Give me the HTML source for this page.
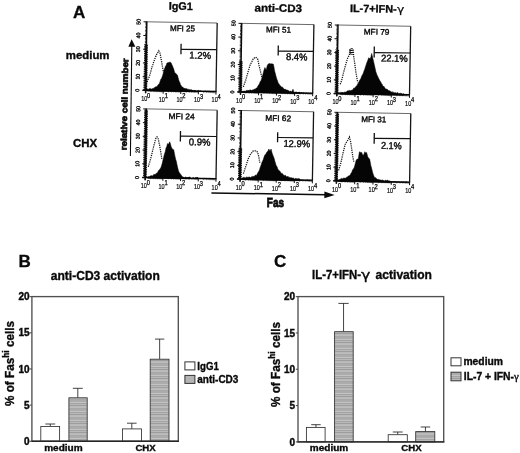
<!DOCTYPE html>
<html lang="en"><head><meta charset="utf-8"><title>Fas expression figure</title>
<style>
html,body{margin:0;padding:0;background:#fff;}
body{width:520px;height:453px;overflow:hidden;font-family:'Liberation Sans', Arial, Helvetica, sans-serif;}
svg{display:block;font-family:'Liberation Sans', Arial, Helvetica, sans-serif;filter:blur(0.35px);}
</style></head><body>
<svg width="520" height="453" viewBox="0 0 520 453">
<rect width="520" height="453" fill="#fff"/>
<g id="panelA">
<g>
<path d="M146.8 21.8L217.19 23.03" stroke="#6a6a6a" stroke-width="1" fill="none"/>
<path d="M217.19 23.03L215.99 91.62" stroke="#151515" stroke-width="1.3" fill="none"/>
<path d="M142.6 90.34L216.49 91.62" stroke="#0a0a0a" stroke-width="1.5" fill="none"/>
<path d="M146.8 21.4L145.6 92.89" stroke="#0a0a0a" stroke-width="1.5" fill="none"/>
<path d="M145.9 21.8L145.5 44.43" stroke="#111" stroke-width="1.3" stroke-dasharray="0.7 0.67" fill="none"/>
<path d="M144.3 44.43L147.89 45.34L144.27 46.24L147.86 47.14L144.24 48.04L147.83 48.94L144.21 49.84L147.79 50.74L144.18 51.64L147.76 52.54L144.15 53.45L147.73 54.35L144.12 55.25L147.7 56.15L144.08 57.05L147.67 57.95L144.05 58.85L147.64 59.75L144.02 60.65L147.61 61.56L143.99 62.46L147.57 63.36L143.96 64.26L147.54 65.16L143.93 66.06L147.51 66.96L143.9 67.86L147.48 68.76L143.86 69.66L147.45 70.57L143.83 71.47L147.42 72.37L143.8 73.27L147.39 74.17L143.77 75.07L147.35 75.97L143.74 76.87L147.32 77.77L143.71 78.68L147.29 79.58L143.68 80.48L147.26 81.38L143.64 82.28L147.23 83.18L143.61 84.08L147.2 84.98L143.58 85.88L147.17 86.79L143.55 87.69L147.13 88.59L143.52 89.49L147.1 90.39" stroke="#050505" stroke-width="0.85" fill="none" stroke-linejoin="miter"/>
<path d="M146.2 44.43L145.4 90.39" stroke="#0a0a0a" stroke-width="1.7" fill="none"/>
<path d="M142.4 90.39L145.6 90.39" stroke="#111" stroke-width="1"/>
<text transform="translate(139.4 90.39) rotate(-89)" text-anchor="middle" font-size="5.6" fill="#111" stroke="#111" stroke-width="0.35" textLength="2.9" lengthAdjust="spacingAndGlyphs">0</text>
<path d="M142.64 76.67L145.84 76.67" stroke="#111" stroke-width="1"/>
<text transform="translate(139.64 76.67) rotate(-89)" text-anchor="middle" font-size="5.6" fill="#111" stroke="#111" stroke-width="0.35" textLength="5.8" lengthAdjust="spacingAndGlyphs">10</text>
<path d="M142.88 62.95L146.08 62.95" stroke="#111" stroke-width="1"/>
<text transform="translate(139.88 62.95) rotate(-89)" text-anchor="middle" font-size="5.6" fill="#111" stroke="#111" stroke-width="0.35" textLength="5.8" lengthAdjust="spacingAndGlyphs">20</text>
<path d="M143.12 49.24L146.32 49.24" stroke="#111" stroke-width="1"/>
<text transform="translate(140.12 49.24) rotate(-89)" text-anchor="middle" font-size="5.6" fill="#111" stroke="#111" stroke-width="0.35" textLength="5.8" lengthAdjust="spacingAndGlyphs">30</text>
<path d="M143.36 35.52L146.56 35.52" stroke="#111" stroke-width="1"/>
<text transform="translate(140.36 35.52) rotate(-89)" text-anchor="middle" font-size="5.6" fill="#111" stroke="#111" stroke-width="0.35" textLength="5.8" lengthAdjust="spacingAndGlyphs">40</text>
<path d="M143.6 21.8L146.8 21.8" stroke="#111" stroke-width="1"/>
<text transform="translate(140.6 21.8) rotate(-89)" text-anchor="middle" font-size="5.6" fill="#111" stroke="#111" stroke-width="0.35" textLength="5.8" lengthAdjust="spacingAndGlyphs">50</text>
<path d="M145.6 90.39L145.55 93.39" stroke="#111" stroke-width="1"/>
<text x="141.2" y="101.19" font-size="7.3" fill="#000" stroke="#000" stroke-width="0.18" textLength="6.1" lengthAdjust="spacingAndGlyphs">10</text>
<text x="147.1" y="97.59" font-size="6.4" fill="#000" stroke="#000" stroke-width="0.25" textLength="3.2" lengthAdjust="spacingAndGlyphs">0</text>
<path d="M163.2 90.7L163.15 93.7" stroke="#111" stroke-width="1"/>
<text x="158.8" y="101.5" font-size="7.3" fill="#000" stroke="#000" stroke-width="0.18" textLength="6.1" lengthAdjust="spacingAndGlyphs">10</text>
<text x="164.7" y="97.9" font-size="6.4" fill="#000" stroke="#000" stroke-width="0.25" textLength="3.2" lengthAdjust="spacingAndGlyphs">1</text>
<path d="M180.8 91L180.75 94" stroke="#111" stroke-width="1"/>
<text x="176.4" y="101.8" font-size="7.3" fill="#000" stroke="#000" stroke-width="0.18" textLength="6.1" lengthAdjust="spacingAndGlyphs">10</text>
<text x="182.3" y="98.2" font-size="6.4" fill="#000" stroke="#000" stroke-width="0.25" textLength="3.2" lengthAdjust="spacingAndGlyphs">2</text>
<path d="M198.39 91.31L198.34 94.31" stroke="#111" stroke-width="1"/>
<text x="193.99" y="102.11" font-size="7.3" fill="#000" stroke="#000" stroke-width="0.18" textLength="6.1" lengthAdjust="spacingAndGlyphs">10</text>
<text x="199.89" y="98.51" font-size="6.4" fill="#000" stroke="#000" stroke-width="0.25" textLength="3.2" lengthAdjust="spacingAndGlyphs">3</text>
<path d="M215.99 91.62L215.94 94.62" stroke="#111" stroke-width="1"/>
<text x="211.59" y="102.42" font-size="7.3" fill="#000" stroke="#000" stroke-width="0.18" textLength="6.1" lengthAdjust="spacingAndGlyphs">10</text>
<text x="217.49" y="98.82" font-size="6.4" fill="#000" stroke="#000" stroke-width="0.25" textLength="3.2" lengthAdjust="spacingAndGlyphs">4</text>
<path d="M150.9 90.48v1.6M154 90.54v1.6M156.2 90.57v1.6M157.9 90.6v1.6M159.3 90.63v1.6M160.47 90.65v1.6M161.49 90.67v1.6M162.39 90.68v1.6M168.5 90.79v1.6M171.6 90.84v1.6M173.79 90.88v1.6M175.5 90.91v1.6M176.89 90.94v1.6M178.07 90.96v1.6M179.09 90.97v1.6M179.99 90.99v1.6M186.09 91.1v1.6M189.19 91.15v1.6M191.39 91.19v1.6M193.1 91.22v1.6M194.49 91.24v1.6M195.67 91.26v1.6M196.69 91.28v1.6M197.59 91.3v1.6M203.69 91.4v1.6M206.79 91.46v1.6M208.99 91.5v1.6M210.69 91.53v1.6M212.09 91.55v1.6M213.27 91.57v1.6M214.29 91.59v1.6M215.19 91.6v1.6" stroke="#222" stroke-width="0.5" fill="none"/>
<path d="M147.1 81.91L147.93 79.79L148.77 78.01L149.6 75.69L150.4 73.02L151.2 70.03L152 66.98L152.83 64.74L153.67 62.04L154.5 59.77L155.33 57.52L156.17 55.46L157 53.56L157.9 52.51L158.8 50.91L160.1 53.46L161.3 59.86L162.6 67.42L163.5 72.24" stroke="#111" stroke-width="1.25" stroke-dasharray="1.2 1.0" fill="none"/>
<path d="M146.5 91.01L146.5 89.19L147.11 89.77L147.72 88.69L148.33 89.53L148.94 88.85L149.56 88.63L150.17 88.55L150.78 88.7L151.39 89.2L152 88.45L152.63 88.63L153.26 88.44L153.89 87.89L154.51 87.82L155.14 87.03L155.77 86.77L156.4 86.68L157.02 86.46L157.64 85.44L158.26 84.58L158.88 84.13L159.5 83.25L160.7 79.38L161.33 78.69L161.97 77.35L162.6 75.62L163.2 73.52L163.8 70.99L164.4 68.91L165.03 67.5L165.65 65.77L166.28 65.28L166.9 63.08L167.8 62.81L168.7 62.58L169.32 62.07L169.95 62.59L170.57 62.24L171.2 63.09L171.83 64.62L172.47 65.85L173.1 67.61L173.7 68.86L174.3 71.15L174.9 72.9L175.53 73.34L176.15 73.65L176.78 74.52L177.4 75.09L178.6 79.57L179.23 81.41L179.87 82.38L180.5 84.72L181.12 85.4L181.74 86.52L182.36 87.07L182.98 87.22L183.6 88.07L184.21 88.57L184.82 88.05L185.44 88.72L186.05 88.58L186.66 88.72L187.28 88.84L187.89 89.81L188.5 89.29L189.12 89.5L189.75 89.73L190.38 90.33L191 89.54L191.62 90.02L192.25 90.2L192.88 90.65L193.5 90.65L194.12 90.78L194.75 90.21L195.38 90.43L196 90.44L196 91.87Z" fill="#050505" stroke="#050505" stroke-width="0.5" stroke-linejoin="round"/>
<path d="M146.1 91L146.1 88.98L146.7 88.88L147.3 90.18L147.9 90.15L148.5 90.07L149.1 90.08L149.7 89.69L150.3 89.53L150.9 90.06L151.5 90.49L152.1 89.83L152.7 89.92L153.3 89.62L153.9 89.01L154.5 89.44L155.1 89.73L155.7 89.58L156.3 89.49L156.9 90.5L157.5 89.16L158.1 89.36L158.7 89.22L159.3 89.35L159.9 90.01L160.5 90.01L161.1 90.49L161.7 89.66L162.3 90.58L162.9 90.58L163.5 90.37L164.1 90.45L164.7 90.18L165.3 90.65L165.9 90.74L166.5 90.51L167.1 90.6L167.7 90.19L168.3 90.74L168.9 89.4L169.5 89.82L170.1 90.58L170.7 90.42L171.3 90.28L171.9 90.27L172.5 90.66L173.1 89.51L173.7 89.29L174.3 90.14L174.9 90.13L175.5 90.77L176.1 90.76L176.7 90.38L177.3 90.52L177.9 89.63L178.5 90.71L179.1 90.94L179.7 89.46L180.3 90.15L180.9 90.77L181.5 90.15L182.1 90.98L182.7 90.19L183.3 89.48L183.9 89.68L184.5 89.95L185.1 90.66L185.7 90.5L186.3 90.83L186.9 89.88L187.5 90.27L188.1 89.88L188.7 90.61L189.3 90.8L189.9 89.86L190.5 89.6L191.1 89.82L191.7 89.9L192.3 89.9L192.9 90.03L193.5 90.86L194.1 90.41L194.7 90.68L195.3 91.21L195.9 91.22L196.5 90.83L197.1 90.87L197.7 90.19L198.3 89.78L198.9 90.96L199.5 90.58L200.1 90.55L200.7 90.59L201.3 91.07L201.9 91.2L202.5 91.2L203.1 91.24L203.7 91.24L204.3 90.91L204.9 90.7L205.5 90.76L206.1 91.06L206.7 90.93L207.3 90.83L207.9 91.41L208.5 90.96L209.1 90.77L209.7 90.88L210.3 90.92L210.9 91.15L211.5 91.4L212.1 90.92L212.7 91.29L213.3 90.93L213.9 90.8L213.99 92.18Z" fill="#050505"/>
<path d="M181.1 43.7L180.95 54.2" stroke="#111" stroke-width="1.3" fill="none"/>
<path d="M181.1 49.3L216.73 49.67" stroke="#111" stroke-width="1.2" fill="none"/>
<text transform="translate(170 31) rotate(1)" font-size="8.2" fill="#0a0a0a" stroke="#0a0a0a" stroke-width="0.4" textLength="25" lengthAdjust="spacingAndGlyphs">MFI 25</text>
<text transform="translate(189.2 58.6) rotate(1)" font-size="9.8" fill="#0a0a0a" stroke="#0a0a0a" stroke-width="0.4" textLength="21.8" lengthAdjust="spacingAndGlyphs">1.2%</text>
</g>
<g>
<path d="M241.7 23.35L313.89 24.61" stroke="#6a6a6a" stroke-width="1" fill="none"/>
<path d="M313.89 24.61L312.69 93.2" stroke="#151515" stroke-width="1.3" fill="none"/>
<path d="M237.5 91.89L313.19 93.2" stroke="#0a0a0a" stroke-width="1.5" fill="none"/>
<path d="M241.7 22.95L240.5 94.44" stroke="#0a0a0a" stroke-width="1.5" fill="none"/>
<path d="M240.8 23.35L240.14 61.07" stroke="#111" stroke-width="1.3" stroke-dasharray="0.7 0.67" fill="none"/>
<path d="M238.94 61.07L242.53 61.98L238.91 62.89L242.49 63.8L238.88 64.71L242.46 65.61L238.85 66.52L242.43 67.43L238.81 68.34L242.4 69.24L238.78 70.15L242.37 71.06L238.75 71.97L242.34 72.88L238.72 73.78L242.3 74.69L238.69 75.6L242.27 76.51L238.66 77.41L242.24 78.32L238.62 79.23L242.21 80.14L238.59 81.05L242.18 81.95L238.56 82.86L242.15 83.77L238.53 84.68L242.11 85.58L238.5 86.49L242.08 87.4L238.47 88.31L242.05 89.22L238.43 90.12L242.02 91.03L238.4 91.94" stroke="#050505" stroke-width="0.85" fill="none" stroke-linejoin="miter"/>
<path d="M240.84 61.07L240.3 91.94" stroke="#0a0a0a" stroke-width="1.7" fill="none"/>
<path d="M237.3 91.94L240.5 91.94" stroke="#111" stroke-width="1"/>
<text transform="translate(234.3 91.94) rotate(-89)" text-anchor="middle" font-size="5.6" fill="#111" stroke="#111" stroke-width="0.35" textLength="2.9" lengthAdjust="spacingAndGlyphs">0</text>
<path d="M237.54 78.22L240.74 78.22" stroke="#111" stroke-width="1"/>
<text transform="translate(234.54 78.22) rotate(-89)" text-anchor="middle" font-size="5.6" fill="#111" stroke="#111" stroke-width="0.35" textLength="5.8" lengthAdjust="spacingAndGlyphs">10</text>
<path d="M237.78 64.5L240.98 64.5" stroke="#111" stroke-width="1"/>
<text transform="translate(234.78 64.5) rotate(-89)" text-anchor="middle" font-size="5.6" fill="#111" stroke="#111" stroke-width="0.35" textLength="5.8" lengthAdjust="spacingAndGlyphs">20</text>
<path d="M238.02 50.79L241.22 50.79" stroke="#111" stroke-width="1"/>
<text transform="translate(235.02 50.79) rotate(-89)" text-anchor="middle" font-size="5.6" fill="#111" stroke="#111" stroke-width="0.35" textLength="5.8" lengthAdjust="spacingAndGlyphs">30</text>
<path d="M238.26 37.07L241.46 37.07" stroke="#111" stroke-width="1"/>
<text transform="translate(235.26 37.07) rotate(-89)" text-anchor="middle" font-size="5.6" fill="#111" stroke="#111" stroke-width="0.35" textLength="5.8" lengthAdjust="spacingAndGlyphs">40</text>
<path d="M238.5 23.35L241.7 23.35" stroke="#111" stroke-width="1"/>
<text transform="translate(235.5 23.35) rotate(-89)" text-anchor="middle" font-size="5.6" fill="#111" stroke="#111" stroke-width="0.35" textLength="5.8" lengthAdjust="spacingAndGlyphs">50</text>
<path d="M240.5 91.94L240.45 94.94" stroke="#111" stroke-width="1"/>
<text x="236.1" y="102.74" font-size="7.3" fill="#000" stroke="#000" stroke-width="0.18" textLength="6.1" lengthAdjust="spacingAndGlyphs">10</text>
<text x="242" y="99.14" font-size="6.4" fill="#000" stroke="#000" stroke-width="0.25" textLength="3.2" lengthAdjust="spacingAndGlyphs">0</text>
<path d="M258.55 92.25L258.5 95.25" stroke="#111" stroke-width="1"/>
<text x="254.15" y="103.05" font-size="7.3" fill="#000" stroke="#000" stroke-width="0.18" textLength="6.1" lengthAdjust="spacingAndGlyphs">10</text>
<text x="260.05" y="99.45" font-size="6.4" fill="#000" stroke="#000" stroke-width="0.25" textLength="3.2" lengthAdjust="spacingAndGlyphs">1</text>
<path d="M276.6 92.57L276.55 95.57" stroke="#111" stroke-width="1"/>
<text x="272.2" y="103.37" font-size="7.3" fill="#000" stroke="#000" stroke-width="0.18" textLength="6.1" lengthAdjust="spacingAndGlyphs">10</text>
<text x="278.1" y="99.77" font-size="6.4" fill="#000" stroke="#000" stroke-width="0.25" textLength="3.2" lengthAdjust="spacingAndGlyphs">2</text>
<path d="M294.64 92.88L294.59 95.88" stroke="#111" stroke-width="1"/>
<text x="290.24" y="103.68" font-size="7.3" fill="#000" stroke="#000" stroke-width="0.18" textLength="6.1" lengthAdjust="spacingAndGlyphs">10</text>
<text x="296.14" y="100.08" font-size="6.4" fill="#000" stroke="#000" stroke-width="0.25" textLength="3.2" lengthAdjust="spacingAndGlyphs">3</text>
<path d="M312.69 93.2L312.64 96.2" stroke="#111" stroke-width="1"/>
<text x="308.29" y="104" font-size="7.3" fill="#000" stroke="#000" stroke-width="0.18" textLength="6.1" lengthAdjust="spacingAndGlyphs">10</text>
<text x="314.19" y="100.4" font-size="6.4" fill="#000" stroke="#000" stroke-width="0.25" textLength="3.2" lengthAdjust="spacingAndGlyphs">4</text>
<path d="M245.94 92.03v1.6M249.11 92.09v1.6M251.37 92.13v1.6M253.12 92.16v1.6M254.55 92.18v1.6M255.75 92.21v1.6M256.8 92.22v1.6M257.72 92.24v1.6M263.98 92.35v1.6M267.16 92.4v1.6M269.42 92.44v1.6M271.16 92.47v1.6M272.59 92.5v1.6M273.8 92.52v1.6M274.85 92.54v1.6M275.77 92.56v1.6M282.03 92.66v1.6M285.21 92.72v1.6M287.46 92.76v1.6M289.21 92.79v1.6M290.64 92.81v1.6M291.85 92.84v1.6M292.9 92.85v1.6M293.82 92.87v1.6M300.08 92.98v1.6M303.26 93.03v1.6M305.51 93.07v1.6M307.26 93.1v1.6M308.69 93.13v1.6M309.9 93.15v1.6M310.94 93.17v1.6M311.87 93.19v1.6" stroke="#222" stroke-width="0.5" fill="none"/>
<path d="M243.4 86.85L244.55 83.4L245.7 80.22L246.85 76.26L248 72.14L249.15 68.26L250.3 64.43L251.33 62.77L252.37 60.69L253.4 58.32L254.55 57.86L255.7 57.14L256.7 58.13L257.7 59.13L259.2 66.22L260 69.47L260.8 72.86L261.8 77.14" stroke="#111" stroke-width="1.25" stroke-dasharray="1.2 1.0" fill="none"/>
<path d="M242.6 92.58L242.6 91.36L243.2 91.16L243.8 91.54L244.4 90.93L245 91.34L245.6 91.23L246.2 90.48L246.8 90.46L247.4 90.44L248 90.31L248.66 90.61L249.31 90.16L249.97 90.25L250.63 89.85L251.29 90.62L251.94 89.92L252.6 89.95L253.26 89.76L253.91 89.79L254.57 88.93L255.23 89.15L255.89 88.36L256.54 88.06L257.2 87.73L257.97 85.87L258.73 85.03L259.5 83.45L260.27 81.49L261.03 80.6L261.8 78.14L262.47 75.9L263.13 73.61L263.8 70.86L264.9 67.51L265.55 68.87L266.2 70.06L267.2 65.71L268 64.17L268.8 63.87L269.46 63.52L270.11 63.55L270.77 64.1L271.43 63.81L272.09 63.87L272.74 64.09L273.4 64.25L274 67.24L274.6 70.92L275.4 73.86L276.2 76.91L276.9 79.18L277.6 80.98L278.3 83.14L279 83.85L279.7 85.14L280.4 85.64L281.1 86.61L281.76 87.23L282.41 87.02L283.07 87.89L283.73 88.86L284.39 89.29L285.04 89.06L285.7 89.58L286.31 90.09L286.92 89.83L287.53 90.16L288.14 90.13L288.75 90.94L289.36 91.21L289.97 91.49L290.58 90.82L291.19 91.59L291.8 91.68L293 89.21L294 92.42L294.6 92.55L295.2 91.77L295.8 92.62L296.4 92.05L297 92.19L297.6 92.78L298.2 92.65L298.8 91.95L299.4 92.28L300 92.42L300 93.58Z" fill="#050505" stroke="#050505" stroke-width="0.5" stroke-linejoin="round"/>
<path d="M241 92.55L241 91.41L241.6 91.65L242.2 91.46L242.8 90.82L243.4 91.96L244 91.11L244.6 91.31L245.2 91.99L245.8 91.5L246.4 91.04L247 91.23L247.6 91.96L248.2 90.5L248.8 90.82L249.4 90.54L250 91.94L250.6 91.69L251.2 92.06L251.8 90.89L252.4 91.71L253 91.95L253.6 91.49L254.2 90.72L254.8 90.88L255.4 91.79L256 91.97L256.6 90.75L257.2 91.32L257.8 91.12L258.4 92.11L259 92.17L259.6 91.17L260.2 91.6L260.8 92.18L261.4 90.8L262 91.3L262.6 91.04L263.2 92.2L263.8 90.98L264.4 92.25L265 90.99L265.6 91.65L266.2 91.85L266.8 91.51L267.4 90.93L268 91.99L268.6 92.22L269.2 91.6L269.8 92.07L270.4 92.29L271 92.21L271.6 92.4L272.2 92.17L272.8 92L273.4 92.03L274 91.31L274.6 92.07L275.2 91.75L275.8 92.27L276.4 92.01L277 92.55L277.6 92.19L278.2 92.57L278.8 91.44L279.4 91.74L280 92.33L280.6 91.88L281.2 91.15L281.8 92.49L282.4 91.36L283 91.99L283.6 91.9L284.2 91.37L284.8 92.08L285.4 91.91L286 91.63L286.6 91.17L287.2 92.21L287.8 91.43L288.4 91.64L289 91.77L289.6 92.15L290.2 92.25L290.8 92.73L291.4 92.62L292 92.73L292.6 91.66L293.2 92.45L293.8 92.61L294.4 92.75L295 92.22L295.6 92.2L296.2 92.38L296.8 92.7L297.4 92.74L298 92.71L298.6 92.59L299.2 92.84L299.8 92.62L300.4 92.77L301 92.23L301.6 92.23L302.2 92.58L302.8 92.83L303.4 92.26L304 92.8L304.6 92.77L305.2 93.07L305.8 92.77L306.4 92.71L307 92.7L307.6 92.95L308.2 92.72L308.8 93.13L309.4 92.93L310 93.08L310.6 92.84L310.69 93.76Z" fill="#050505"/>
<path d="M278.3 45.4L278.15 55.4" stroke="#111" stroke-width="1.3" fill="none"/>
<path d="M278.3 51.1L313.43 51.47" stroke="#111" stroke-width="1.2" fill="none"/>
<text transform="translate(266 32.2) rotate(1)" font-size="8.2" fill="#0a0a0a" stroke="#0a0a0a" stroke-width="0.4" textLength="25" lengthAdjust="spacingAndGlyphs">MFI 51</text>
<text transform="translate(286 60) rotate(1)" font-size="9.8" fill="#0a0a0a" stroke="#0a0a0a" stroke-width="0.4" textLength="21.5" lengthAdjust="spacingAndGlyphs">8.4%</text>
</g>
<g>
<path d="M338 25L410.69 26.27" stroke="#6a6a6a" stroke-width="1" fill="none"/>
<path d="M410.69 26.27L409.49 94.86" stroke="#151515" stroke-width="1.3" fill="none"/>
<path d="M333.8 93.54L409.99 94.86" stroke="#0a0a0a" stroke-width="1.5" fill="none"/>
<path d="M338 24.6L336.8 96.09" stroke="#0a0a0a" stroke-width="1.5" fill="none"/>
<path d="M337.1 25L336.67 49.69" stroke="#111" stroke-width="1.3" stroke-dasharray="0.7 0.67" fill="none"/>
<path d="M335.47 49.69L339.05 50.61L335.44 51.52L339.02 52.44L335.41 53.35L338.99 54.26L335.37 55.18L338.96 56.09L335.34 57.01L338.93 57.92L335.31 58.84L338.89 59.75L335.28 60.67L338.86 61.58L335.25 62.5L338.83 63.41L335.21 64.32L338.8 65.24L335.18 66.15L338.77 67.07L335.15 67.98L338.73 68.9L335.12 69.81L338.7 70.73L335.09 71.64L338.67 72.56L335.05 73.47L338.64 74.38L335.02 75.3L338.61 76.21L334.99 77.13L338.57 78.04L334.96 78.96L338.54 79.87L334.93 80.79L338.51 81.7L334.89 82.62L338.48 83.53L334.86 84.44L338.45 85.36L334.83 86.27L338.41 87.19L334.8 88.1L338.38 89.02L334.77 89.93L338.35 90.85L334.73 91.76L338.32 92.68L334.7 93.59" stroke="#050505" stroke-width="0.85" fill="none" stroke-linejoin="miter"/>
<path d="M337.37 49.69L336.6 93.59" stroke="#0a0a0a" stroke-width="1.7" fill="none"/>
<path d="M333.6 93.59L336.8 93.59" stroke="#111" stroke-width="1"/>
<text transform="translate(330.6 93.59) rotate(-89)" text-anchor="middle" font-size="5.6" fill="#111" stroke="#111" stroke-width="0.35" textLength="2.9" lengthAdjust="spacingAndGlyphs">0</text>
<path d="M333.84 79.87L337.04 79.87" stroke="#111" stroke-width="1"/>
<text transform="translate(330.84 79.87) rotate(-89)" text-anchor="middle" font-size="5.6" fill="#111" stroke="#111" stroke-width="0.35" textLength="5.8" lengthAdjust="spacingAndGlyphs">10</text>
<path d="M334.08 66.15L337.28 66.15" stroke="#111" stroke-width="1"/>
<text transform="translate(331.08 66.15) rotate(-89)" text-anchor="middle" font-size="5.6" fill="#111" stroke="#111" stroke-width="0.35" textLength="5.8" lengthAdjust="spacingAndGlyphs">20</text>
<path d="M334.32 52.44L337.52 52.44" stroke="#111" stroke-width="1"/>
<text transform="translate(331.32 52.44) rotate(-89)" text-anchor="middle" font-size="5.6" fill="#111" stroke="#111" stroke-width="0.35" textLength="5.8" lengthAdjust="spacingAndGlyphs">30</text>
<path d="M334.56 38.72L337.76 38.72" stroke="#111" stroke-width="1"/>
<text transform="translate(331.56 38.72) rotate(-89)" text-anchor="middle" font-size="5.6" fill="#111" stroke="#111" stroke-width="0.35" textLength="5.8" lengthAdjust="spacingAndGlyphs">40</text>
<path d="M334.8 25L338 25" stroke="#111" stroke-width="1"/>
<text transform="translate(331.8 25) rotate(-89)" text-anchor="middle" font-size="5.6" fill="#111" stroke="#111" stroke-width="0.35" textLength="5.8" lengthAdjust="spacingAndGlyphs">50</text>
<path d="M336.8 93.59L336.75 96.59" stroke="#111" stroke-width="1"/>
<text x="332.4" y="104.39" font-size="7.3" fill="#000" stroke="#000" stroke-width="0.18" textLength="6.1" lengthAdjust="spacingAndGlyphs">10</text>
<text x="338.3" y="100.79" font-size="6.4" fill="#000" stroke="#000" stroke-width="0.25" textLength="3.2" lengthAdjust="spacingAndGlyphs">0</text>
<path d="M354.97 93.91L354.92 96.91" stroke="#111" stroke-width="1"/>
<text x="350.57" y="104.71" font-size="7.3" fill="#000" stroke="#000" stroke-width="0.18" textLength="6.1" lengthAdjust="spacingAndGlyphs">10</text>
<text x="356.47" y="101.11" font-size="6.4" fill="#000" stroke="#000" stroke-width="0.25" textLength="3.2" lengthAdjust="spacingAndGlyphs">1</text>
<path d="M373.15 94.22L373.1 97.22" stroke="#111" stroke-width="1"/>
<text x="368.75" y="105.02" font-size="7.3" fill="#000" stroke="#000" stroke-width="0.18" textLength="6.1" lengthAdjust="spacingAndGlyphs">10</text>
<text x="374.65" y="101.42" font-size="6.4" fill="#000" stroke="#000" stroke-width="0.25" textLength="3.2" lengthAdjust="spacingAndGlyphs">2</text>
<path d="M391.32 94.54L391.27 97.54" stroke="#111" stroke-width="1"/>
<text x="386.92" y="105.34" font-size="7.3" fill="#000" stroke="#000" stroke-width="0.18" textLength="6.1" lengthAdjust="spacingAndGlyphs">10</text>
<text x="392.82" y="101.74" font-size="6.4" fill="#000" stroke="#000" stroke-width="0.25" textLength="3.2" lengthAdjust="spacingAndGlyphs">3</text>
<path d="M409.49 94.86L409.44 97.86" stroke="#111" stroke-width="1"/>
<text x="405.09" y="105.66" font-size="7.3" fill="#000" stroke="#000" stroke-width="0.18" textLength="6.1" lengthAdjust="spacingAndGlyphs">10</text>
<text x="410.99" y="102.06" font-size="6.4" fill="#000" stroke="#000" stroke-width="0.25" textLength="3.2" lengthAdjust="spacingAndGlyphs">4</text>
<path d="M342.27 93.69v1.6M345.47 93.74v1.6M347.74 93.78v1.6M349.5 93.81v1.6M350.94 93.84v1.6M352.16 93.86v1.6M353.21 93.88v1.6M354.14 93.89v1.6M360.45 94v1.6M363.65 94.06v1.6M365.92 94.1v1.6M367.68 94.13v1.6M369.12 94.15v1.6M370.33 94.17v1.6M371.39 94.19v1.6M372.32 94.21v1.6M378.62 94.32v1.6M381.82 94.38v1.6M384.09 94.41v1.6M385.85 94.45v1.6M387.29 94.47v1.6M388.5 94.49v1.6M389.56 94.51v1.6M390.49 94.53v1.6M396.79 94.64v1.6M399.99 94.69v1.6M402.26 94.73v1.6M404.02 94.76v1.6M405.46 94.79v1.6M406.68 94.81v1.6M407.73 94.83v1.6M408.66 94.84v1.6" stroke="#222" stroke-width="0.5" fill="none"/>
<path d="M340.2 84.27L341.7 80.36L342.6 76.65L343.5 72.77L344.5 69.09L345.5 65.21L346.65 61.48L347.8 57.58L349.4 55.31L349.8 48.79L350.4 54.44L351 48.21L351.6 54.74L352.2 48.12L352.8 54.61L353.2 49.07L353.7 56.57L354.8 63.87L355.8 71.6L357.1 79.16L357.8 82.32" stroke="#111" stroke-width="1.25" stroke-dasharray="1.2 1.0" fill="none"/>
<path d="M340.2 94.25L340.2 92.94L340.81 92.11L341.42 92.45L342.03 92.33L342.64 92.61L343.25 92.49L343.86 92.42L344.47 92.06L345.08 92.31L345.69 91.99L346.3 91.91L346.92 91.21L347.54 90.8L348.16 90.73L348.78 90.79L349.4 90.32L350.02 90.93L350.64 90.43L351.26 90.32L351.88 90.13L352.5 90L353.16 89.13L353.81 87.94L354.47 88.16L355.13 87.44L355.79 86.52L356.44 85.9L357.1 85.38L357.72 83.64L358.34 83.3L358.96 81.69L359.58 80.41L360.2 79.54L360.97 78.29L361.73 75.94L362.5 74.76L363.27 73.22L364.03 70.89L364.8 68.97L365.4 67.01L366 65.17L366.6 63.19L367.27 61.5L367.93 59.99L368.6 57.84L369.4 58.31L370.2 58.83L370.95 56.67L371.7 53.48L372.8 58.37L373.55 61.21L374.3 64.72L375.05 68.05L375.8 71.59L376.47 73.41L377.13 75.19L377.8 76.57L378.6 78.35L379.4 79.83L380.2 81.36L380.8 81.9L381.4 83.67L382 83.83L382.6 85.61L383.2 86.48L383.82 86.09L384.44 87.19L385.06 88.21L385.68 88.99L386.3 89.04L386.96 89.22L387.61 89.52L388.27 90.7L388.93 90.27L389.59 91.05L390.24 90.93L390.9 91.73L391.54 92.34L392.18 91.58L392.82 92.48L393.47 92.28L394.11 92.83L394.75 92.77L395.39 92.4L396.03 93.27L396.68 92.96L397.32 92.59L397.96 92.71L398.6 93.39L399.28 93.42L399.95 93.33L400.62 93.23L401.3 93.53L401.98 93.57L402.65 94.22L403.32 93.38L404 94.28L404 95.36Z" fill="#050505" stroke="#050505" stroke-width="0.5" stroke-linejoin="round"/>
<path d="M337.3 94.2L337.3 92.26L337.9 93.42L338.5 92.14L339.1 92.49L339.7 92.2L340.3 93.19L340.9 93.07L341.5 93.04L342.1 92.08L342.7 92.75L343.3 93.13L343.9 93.03L344.5 93.28L345.1 93.66L345.7 93.58L346.3 92.42L346.9 93.31L347.5 92.28L348.1 93.39L348.7 93.37L349.3 92.99L349.9 93.51L350.5 93.23L351.1 92.31L351.7 92.43L352.3 92.56L352.9 92.86L353.5 92.42L354.1 92.39L354.7 93.02L355.3 92.76L355.9 93.84L356.5 92.76L357.1 93.22L357.7 92.75L358.3 92.93L358.9 93.52L359.5 93.91L360.1 92.51L360.7 93.8L361.3 93.26L361.9 93.48L362.5 93.56L363.1 92.87L363.7 92.5L364.3 93.65L364.9 93.03L365.5 93.61L366.1 93.21L366.7 93.48L367.3 93.85L367.9 93.87L368.5 93.81L369.1 92.7L369.7 93.37L370.3 93.82L370.9 92.73L371.5 92.6L372.1 93.49L372.7 93.99L373.3 93.92L373.9 94.09L374.5 93.7L375.1 94.11L375.7 93.89L376.3 93.87L376.9 93.38L377.5 92.88L378.1 93.11L378.7 93.66L379.3 93.67L379.9 93.5L380.5 93.75L381.1 93.82L381.7 94.27L382.3 93.94L382.9 92.85L383.5 94.2L384.1 93.61L384.7 93.42L385.3 93.06L385.9 94.1L386.5 94.02L387.1 94.07L387.7 93.84L388.3 93.77L388.9 92.97L389.5 93.15L390.1 93.12L390.7 94.5L391.3 94.49L391.9 93.98L392.5 93.85L393.1 94.19L393.7 94.11L394.3 94.59L394.9 94.29L395.5 93.87L396.1 93.96L396.7 93.95L397.3 93.87L397.9 94.46L398.5 94.58L399.1 94.55L399.7 94.27L400.3 94.15L400.9 93.96L401.5 94.14L402.1 94.21L402.7 94.13L403.3 94.38L403.9 94.32L404.5 94.74L405.1 94.16L405.7 94.61L406.3 94.07L406.9 94.3L407.49 95.42Z" fill="#050505"/>
<path d="M374.3 46.5L374.15 57.5" stroke="#111" stroke-width="1.3" fill="none"/>
<path d="M374.3 52.6L410.23 52.98" stroke="#111" stroke-width="1.2" fill="none"/>
<text transform="translate(363.8 34.4) rotate(1)" font-size="8.2" fill="#0a0a0a" stroke="#0a0a0a" stroke-width="0.4" textLength="25.5" lengthAdjust="spacingAndGlyphs">MFI 79</text>
<text transform="translate(380.9 61.4) rotate(1)" font-size="9.8" fill="#0a0a0a" stroke="#0a0a0a" stroke-width="0.4" textLength="26.9" lengthAdjust="spacingAndGlyphs">22.1%</text>
</g>
<g>
<path d="M146.4 108.9L217.19 110.14" stroke="#6a6a6a" stroke-width="1" fill="none"/>
<path d="M217.19 110.14L215.99 178.73" stroke="#151515" stroke-width="1.3" fill="none"/>
<path d="M142.2 177.44L216.49 178.73" stroke="#0a0a0a" stroke-width="1.5" fill="none"/>
<path d="M146.4 108.5L145.2 179.99" stroke="#0a0a0a" stroke-width="1.5" fill="none"/>
<path d="M145.5 108.9L145.48 110.27" stroke="#111" stroke-width="1.3" stroke-dasharray="0.7 0.67" fill="none"/>
<path d="M144.28 110.27L147.86 111.18L144.24 112.09L147.83 113L144.21 113.91L147.8 114.81L144.18 115.72L147.77 116.63L144.15 117.54L147.73 118.45L144.12 119.36L147.7 120.26L144.09 121.17L147.67 122.08L144.05 122.99L147.64 123.9L144.02 124.81L147.61 125.71L143.99 126.62L147.57 127.53L143.96 128.44L147.54 129.35L143.93 130.26L147.51 131.16L143.9 132.07L147.48 132.98L143.86 133.89L147.45 134.8L143.83 135.71L147.42 136.61L143.8 137.52L147.38 138.43L143.77 139.34L147.35 140.25L143.74 141.16L147.32 142.06L143.71 142.97L147.29 143.88L143.67 144.79L147.26 145.7L143.64 146.61L147.23 147.51L143.61 148.42L147.19 149.33L143.58 150.24L147.16 151.15L143.55 152.06L147.13 152.96L143.52 153.87L147.1 154.78L143.48 155.69L147.07 156.6L143.45 157.51L147.04 158.41L143.42 159.32L147 160.23L143.39 161.14L146.97 162.05L143.36 162.96L146.94 163.86L143.32 164.77L146.91 165.68L143.29 166.59L146.88 167.5L143.26 168.41L146.85 169.31L143.23 170.22L146.81 171.13L143.2 172.04L146.78 172.95L143.17 173.86L146.75 174.76L143.13 175.67L146.72 176.58L143.1 177.49" stroke="#050505" stroke-width="0.85" fill="none" stroke-linejoin="miter"/>
<path d="M146.18 110.27L145 177.49" stroke="#0a0a0a" stroke-width="1.7" fill="none"/>
<path d="M142 177.49L145.2 177.49" stroke="#111" stroke-width="1"/>
<text transform="translate(139 177.49) rotate(-89)" text-anchor="middle" font-size="5.6" fill="#111" stroke="#111" stroke-width="0.35" textLength="2.9" lengthAdjust="spacingAndGlyphs">0</text>
<path d="M142.24 163.77L145.44 163.77" stroke="#111" stroke-width="1"/>
<text transform="translate(139.24 163.77) rotate(-89)" text-anchor="middle" font-size="5.6" fill="#111" stroke="#111" stroke-width="0.35" textLength="5.8" lengthAdjust="spacingAndGlyphs">10</text>
<path d="M142.48 150.05L145.68 150.05" stroke="#111" stroke-width="1"/>
<text transform="translate(139.48 150.05) rotate(-89)" text-anchor="middle" font-size="5.6" fill="#111" stroke="#111" stroke-width="0.35" textLength="5.8" lengthAdjust="spacingAndGlyphs">20</text>
<path d="M142.72 136.34L145.92 136.34" stroke="#111" stroke-width="1"/>
<text transform="translate(139.72 136.34) rotate(-89)" text-anchor="middle" font-size="5.6" fill="#111" stroke="#111" stroke-width="0.35" textLength="5.8" lengthAdjust="spacingAndGlyphs">30</text>
<path d="M142.96 122.62L146.16 122.62" stroke="#111" stroke-width="1"/>
<text transform="translate(139.96 122.62) rotate(-89)" text-anchor="middle" font-size="5.6" fill="#111" stroke="#111" stroke-width="0.35" textLength="5.8" lengthAdjust="spacingAndGlyphs">40</text>
<path d="M143.2 108.9L146.4 108.9" stroke="#111" stroke-width="1"/>
<text transform="translate(140.2 108.9) rotate(-89)" text-anchor="middle" font-size="5.6" fill="#111" stroke="#111" stroke-width="0.35" textLength="5.8" lengthAdjust="spacingAndGlyphs">50</text>
<path d="M145.2 177.49L145.15 180.49" stroke="#111" stroke-width="1"/>
<text x="140.8" y="188.29" font-size="7.3" fill="#000" stroke="#000" stroke-width="0.18" textLength="6.1" lengthAdjust="spacingAndGlyphs">10</text>
<text x="146.7" y="184.69" font-size="6.4" fill="#000" stroke="#000" stroke-width="0.25" textLength="3.2" lengthAdjust="spacingAndGlyphs">0</text>
<path d="M162.9 177.8L162.85 180.8" stroke="#111" stroke-width="1"/>
<text x="158.5" y="188.6" font-size="7.3" fill="#000" stroke="#000" stroke-width="0.18" textLength="6.1" lengthAdjust="spacingAndGlyphs">10</text>
<text x="164.4" y="185" font-size="6.4" fill="#000" stroke="#000" stroke-width="0.25" textLength="3.2" lengthAdjust="spacingAndGlyphs">1</text>
<path d="M180.6 178.11L180.55 181.11" stroke="#111" stroke-width="1"/>
<text x="176.2" y="188.91" font-size="7.3" fill="#000" stroke="#000" stroke-width="0.18" textLength="6.1" lengthAdjust="spacingAndGlyphs">10</text>
<text x="182.1" y="185.31" font-size="6.4" fill="#000" stroke="#000" stroke-width="0.25" textLength="3.2" lengthAdjust="spacingAndGlyphs">2</text>
<path d="M198.29 178.42L198.24 181.42" stroke="#111" stroke-width="1"/>
<text x="193.89" y="189.22" font-size="7.3" fill="#000" stroke="#000" stroke-width="0.18" textLength="6.1" lengthAdjust="spacingAndGlyphs">10</text>
<text x="199.79" y="185.62" font-size="6.4" fill="#000" stroke="#000" stroke-width="0.25" textLength="3.2" lengthAdjust="spacingAndGlyphs">3</text>
<path d="M215.99 178.73L215.94 181.73" stroke="#111" stroke-width="1"/>
<text x="211.59" y="189.53" font-size="7.3" fill="#000" stroke="#000" stroke-width="0.18" textLength="6.1" lengthAdjust="spacingAndGlyphs">10</text>
<text x="217.49" y="185.93" font-size="6.4" fill="#000" stroke="#000" stroke-width="0.25" textLength="3.2" lengthAdjust="spacingAndGlyphs">4</text>
<path d="M150.53 177.58v1.6M153.65 177.64v1.6M155.86 177.68v1.6M157.57 177.71v1.6M158.97 177.73v1.6M160.16 177.75v1.6M161.19 177.77v1.6M162.09 177.78v1.6M168.23 177.89v1.6M171.34 177.95v1.6M173.55 177.98v1.6M175.27 178.01v1.6M176.67 178.04v1.6M177.86 178.06v1.6M178.88 178.08v1.6M179.79 178.09v1.6M185.92 178.2v1.6M189.04 178.25v1.6M191.25 178.29v1.6M192.97 178.32v1.6M194.37 178.35v1.6M195.55 178.37v1.6M196.58 178.39v1.6M197.48 178.4v1.6M203.62 178.51v1.6M206.74 178.56v1.6M208.95 178.6v1.6M210.66 178.63v1.6M212.07 178.66v1.6M213.25 178.68v1.6M214.28 178.7v1.6M215.18 178.71v1.6" stroke="#222" stroke-width="0.5" fill="none"/>
<path d="M148.3 166.7L149.25 163.51L150.2 160.48L151.1 156.97L152 153.3L152.95 149.31L153.9 145.59L154.85 142.11L155.8 138.44L157 136.84L158.2 138.86L159.5 144.65L160.7 151.76L161.9 159.3" stroke="#111" stroke-width="1.25" stroke-dasharray="1.2 1.0" fill="none"/>
<path d="M147.7 178.13L147.7 176.76L148.32 177.14L148.95 176.63L149.57 176.73L150.2 176.12L150.82 175.7L151.45 175.55L152.07 176.17L152.7 175.73L153.32 174.97L153.93 174.34L154.55 174.55L155.17 174.43L155.78 173.83L156.4 173.33L157.02 173.04L157.64 172.59L158.26 171.08L158.88 170.13L159.5 169.72L160.1 168.78L160.7 168.03L161.3 166.47L162.05 164.03L162.8 160.86L163.6 157.56L164.4 154.18L165.2 151.92L166 148.09L166.75 146.45L167.5 143.6L168.5 144.29L169.7 141.79L170.35 143.42L171 146.3L172.2 148.9L172.95 149.16L173.7 149.8L174.3 152.81L174.9 155.88L175.65 159.29L176.4 161.51L177.05 164.88L177.7 167.78L178.5 171.07L179.3 172.61L180.2 173.76L181.1 175.02L181.72 175.76L182.35 176.69L182.97 177.05L183.6 177.26L184.24 177.63L184.88 177.63L185.52 177.05L186.16 176.97L186.8 177.88L187.44 177.75L188.08 177.05L188.72 177.82L189.36 177.59L190 177.66L190 178.87Z" fill="#050505" stroke="#050505" stroke-width="0.5" stroke-linejoin="round"/>
<path d="M145.7 178.1L145.7 176.97L146.3 177.24L146.9 177.51L147.5 177.08L148.1 176.98L148.7 176.02L149.3 177.36L149.9 176.03L150.5 177.25L151.1 177.02L151.7 176.29L152.3 176.3L152.9 176.93L153.5 177.56L154.1 176.89L154.7 177.06L155.3 176.19L155.9 177.37L156.5 177.1L157.1 176.26L157.7 177.66L158.3 177.06L158.9 176.43L159.5 176.51L160.1 177.68L160.7 177.7L161.3 177.67L161.9 176.31L162.5 177.38L163.1 176.61L163.7 176.37L164.3 177.28L164.9 177.4L165.5 176.31L166.1 176.87L166.7 177.45L167.3 176.73L167.9 177.38L168.5 177.46L169.1 177.9L169.7 176.71L170.3 176.46L170.9 176.92L171.5 176.44L172.1 177.92L172.7 177.6L173.3 177.22L173.9 176.46L174.5 176.47L175.1 177.39L175.7 177.62L176.3 177.34L176.9 177.25L177.5 176.57L178.1 177.77L178.7 176.79L179.3 176.9L179.9 176.78L180.5 176.87L181.1 177.14L181.7 177.6L182.3 177.63L182.9 177.57L183.5 176.91L184.1 178.04L184.7 177.86L185.3 176.98L185.9 177.8L186.5 178.11L187.1 178.17L187.7 177.35L188.3 177.72L188.9 176.68L189.5 176.85L190.1 176.69L190.7 177.86L191.3 178.16L191.9 178.15L192.5 177.52L193.1 177.19L193.7 177.62L194.3 177.97L194.9 177.69L195.5 177.37L196.1 177.3L196.7 177.19L197.3 177.04L197.9 177.35L198.5 178.32L199.1 177.76L199.7 178.21L200.3 178L200.9 178.16L201.5 177.88L202.1 178.32L202.7 178.3L203.3 178.31L203.9 178.39L204.5 177.82L205.1 178.07L205.7 178.28L206.3 178.24L206.9 177.77L207.5 178.17L208.1 178.4L208.7 177.95L209.3 178.09L209.9 177.83L210.5 178.55L211.1 178.26L211.7 177.99L212.3 177.99L212.9 177.94L213.5 178.65L213.99 179.29Z" fill="#050505"/>
<path d="M180.5 131L180.35 141.5" stroke="#111" stroke-width="1.3" fill="none"/>
<path d="M180.5 136.1L216.74 136.48" stroke="#111" stroke-width="1.2" fill="none"/>
<text transform="translate(168.6 119) rotate(1)" font-size="8.2" fill="#0a0a0a" stroke="#0a0a0a" stroke-width="0.4" textLength="26" lengthAdjust="spacingAndGlyphs">MFI 24</text>
<text transform="translate(188.8 145.2) rotate(1)" font-size="9.8" fill="#0a0a0a" stroke="#0a0a0a" stroke-width="0.4" textLength="21.6" lengthAdjust="spacingAndGlyphs">0.9%</text>
</g>
<g>
<path d="M241.3 110.5L313.59 111.76" stroke="#6a6a6a" stroke-width="1" fill="none"/>
<path d="M313.59 111.76L312.39 180.35" stroke="#151515" stroke-width="1.3" fill="none"/>
<path d="M237.1 179.04L312.89 180.35" stroke="#0a0a0a" stroke-width="1.5" fill="none"/>
<path d="M241.3 110.1L240.1 181.59" stroke="#0a0a0a" stroke-width="1.5" fill="none"/>
<path d="M240.4 110.5L239.74 148.22" stroke="#111" stroke-width="1.3" stroke-dasharray="0.7 0.67" fill="none"/>
<path d="M238.54 148.22L242.13 149.13L238.51 150.04L242.09 150.95L238.48 151.86L242.06 152.76L238.45 153.67L242.03 154.58L238.41 155.49L242 156.39L238.38 157.3L241.97 158.21L238.35 159.12L241.94 160.03L238.32 160.93L241.9 161.84L238.29 162.75L241.87 163.66L238.26 164.56L241.84 165.47L238.22 166.38L241.81 167.29L238.19 168.2L241.78 169.1L238.16 170.01L241.75 170.92L238.13 171.83L241.71 172.73L238.1 173.64L241.68 174.55L238.07 175.46L241.65 176.37L238.03 177.27L241.62 178.18L238 179.09" stroke="#050505" stroke-width="0.85" fill="none" stroke-linejoin="miter"/>
<path d="M240.44 148.22L239.9 179.09" stroke="#0a0a0a" stroke-width="1.7" fill="none"/>
<path d="M236.9 179.09L240.1 179.09" stroke="#111" stroke-width="1"/>
<text transform="translate(233.9 179.09) rotate(-89)" text-anchor="middle" font-size="5.6" fill="#111" stroke="#111" stroke-width="0.35" textLength="2.9" lengthAdjust="spacingAndGlyphs">0</text>
<path d="M237.14 165.37L240.34 165.37" stroke="#111" stroke-width="1"/>
<text transform="translate(234.14 165.37) rotate(-89)" text-anchor="middle" font-size="5.6" fill="#111" stroke="#111" stroke-width="0.35" textLength="5.8" lengthAdjust="spacingAndGlyphs">10</text>
<path d="M237.38 151.65L240.58 151.65" stroke="#111" stroke-width="1"/>
<text transform="translate(234.38 151.65) rotate(-89)" text-anchor="middle" font-size="5.6" fill="#111" stroke="#111" stroke-width="0.35" textLength="5.8" lengthAdjust="spacingAndGlyphs">20</text>
<path d="M237.62 137.94L240.82 137.94" stroke="#111" stroke-width="1"/>
<text transform="translate(234.62 137.94) rotate(-89)" text-anchor="middle" font-size="5.6" fill="#111" stroke="#111" stroke-width="0.35" textLength="5.8" lengthAdjust="spacingAndGlyphs">30</text>
<path d="M237.86 124.22L241.06 124.22" stroke="#111" stroke-width="1"/>
<text transform="translate(234.86 124.22) rotate(-89)" text-anchor="middle" font-size="5.6" fill="#111" stroke="#111" stroke-width="0.35" textLength="5.8" lengthAdjust="spacingAndGlyphs">40</text>
<path d="M238.1 110.5L241.3 110.5" stroke="#111" stroke-width="1"/>
<text transform="translate(235.1 110.5) rotate(-89)" text-anchor="middle" font-size="5.6" fill="#111" stroke="#111" stroke-width="0.35" textLength="5.8" lengthAdjust="spacingAndGlyphs">50</text>
<path d="M240.1 179.09L240.05 182.09" stroke="#111" stroke-width="1"/>
<text x="235.7" y="189.89" font-size="7.3" fill="#000" stroke="#000" stroke-width="0.18" textLength="6.1" lengthAdjust="spacingAndGlyphs">10</text>
<text x="241.6" y="186.29" font-size="6.4" fill="#000" stroke="#000" stroke-width="0.25" textLength="3.2" lengthAdjust="spacingAndGlyphs">0</text>
<path d="M258.18 179.41L258.13 182.41" stroke="#111" stroke-width="1"/>
<text x="253.78" y="190.21" font-size="7.3" fill="#000" stroke="#000" stroke-width="0.18" textLength="6.1" lengthAdjust="spacingAndGlyphs">10</text>
<text x="259.68" y="186.61" font-size="6.4" fill="#000" stroke="#000" stroke-width="0.25" textLength="3.2" lengthAdjust="spacingAndGlyphs">1</text>
<path d="M276.25 179.72L276.2 182.72" stroke="#111" stroke-width="1"/>
<text x="271.85" y="190.52" font-size="7.3" fill="#000" stroke="#000" stroke-width="0.18" textLength="6.1" lengthAdjust="spacingAndGlyphs">10</text>
<text x="277.75" y="186.92" font-size="6.4" fill="#000" stroke="#000" stroke-width="0.25" textLength="3.2" lengthAdjust="spacingAndGlyphs">2</text>
<path d="M294.32 180.04L294.27 183.04" stroke="#111" stroke-width="1"/>
<text x="289.92" y="190.84" font-size="7.3" fill="#000" stroke="#000" stroke-width="0.18" textLength="6.1" lengthAdjust="spacingAndGlyphs">10</text>
<text x="295.82" y="187.24" font-size="6.4" fill="#000" stroke="#000" stroke-width="0.25" textLength="3.2" lengthAdjust="spacingAndGlyphs">3</text>
<path d="M312.39 180.35L312.34 183.35" stroke="#111" stroke-width="1"/>
<text x="307.99" y="191.15" font-size="7.3" fill="#000" stroke="#000" stroke-width="0.18" textLength="6.1" lengthAdjust="spacingAndGlyphs">10</text>
<text x="313.89" y="187.55" font-size="6.4" fill="#000" stroke="#000" stroke-width="0.25" textLength="3.2" lengthAdjust="spacingAndGlyphs">4</text>
<path d="M245.54 179.18v1.6M248.73 179.24v1.6M250.98 179.28v1.6M252.73 179.31v1.6M254.17 179.34v1.6M255.38 179.36v1.6M256.42 179.37v1.6M257.35 179.39v1.6M263.62 179.5v1.6M266.8 179.56v1.6M269.06 179.59v1.6M270.81 179.63v1.6M272.24 179.65v1.6M273.45 179.67v1.6M274.5 179.69v1.6M275.42 179.71v1.6M281.69 179.82v1.6M284.87 179.87v1.6M287.13 179.91v1.6M288.88 179.94v1.6M290.31 179.97v1.6M291.52 179.99v1.6M292.57 180.01v1.6M293.49 180.02v1.6M299.76 180.13v1.6M302.94 180.19v1.6M305.2 180.23v1.6M306.95 180.26v1.6M308.38 180.28v1.6M309.59 180.3v1.6M310.64 180.32v1.6M311.56 180.34v1.6" stroke="#222" stroke-width="0.5" fill="none"/>
<path d="M243.4 173.6L244.55 170.06L245.7 166.64L246.85 163.19L248 159.14L249.15 157.02L250.3 154.44L251.45 153.13L252.6 151.37L253.75 150.88L254.9 150.74L255.83 151.36L256.77 151.47L257.7 152.25L258.8 156.86L259.8 162.76" stroke="#111" stroke-width="1.25" stroke-dasharray="1.2 1.0" fill="none"/>
<path d="M242.6 179.73L242.6 177.66L243.21 177.36L243.83 177.38L244.44 177.39L245.05 177.72L245.67 177.73L246.28 177.19L246.89 176.94L247.51 177.24L248.12 177.58L248.73 176.99L249.35 177.08L249.96 176.91L250.57 177.52L251.19 177.2L251.8 176.62L252.47 176.39L253.14 176.44L253.81 176.34L254.49 176.17L255.16 175.29L255.83 175.1L256.5 175.41L257.27 173.83L258.03 172.43L258.8 171.19L259.47 170.1L260.13 167.59L260.8 166.07L261.4 164.04L262 162.31L262.6 161L263.37 159.35L264.13 156.85L264.9 154.87L265.67 154.45L266.43 152.87L267.2 151.66L268 151.09L268.8 149.02L270 150.95L271.1 149L271.85 152.22L272.6 154.46L273.4 156.43L274.2 158.57L274.87 161.19L275.53 163.32L276.2 165.65L276.9 166.28L277.6 168.4L278.3 169.66L279 170.58L279.7 170.96L280.4 171.89L281.1 172.92L281.72 173.83L282.34 173.39L282.96 174.27L283.58 175.08L284.2 175.71L284.86 175.14L285.51 175.33L286.17 176.5L286.83 176.81L287.49 176.54L288.14 176.34L288.8 177.57L289.41 177.13L290.02 177.84L290.63 177.68L291.24 178.06L291.85 177.48L292.46 178.31L293.07 177.84L293.68 178.19L294.29 178.83L294.9 178.96L295.54 178.3L296.17 178.39L296.81 178.64L297.45 178.82L298.09 178.72L298.73 178.49L299.36 178.67L300 179.25L300 180.73Z" fill="#050505" stroke="#050505" stroke-width="0.5" stroke-linejoin="round"/>
<path d="M240.6 179.7L240.6 177.66L241.2 179.04L241.8 178.22L242.4 177.92L243 179.08L243.6 177.81L244.2 178.97L244.8 178.21L245.4 178.3L246 178.19L246.6 178.71L247.2 178.54L247.8 178.29L248.4 178.55L249 178.19L249.6 178.54L250.2 178.56L250.8 179.24L251.4 178.3L252 178.51L252.6 178.93L253.2 178.1L253.8 178.08L254.4 178.61L255 179.06L255.6 178.6L256.2 179.2L256.8 179.18L257.4 178.7L258 179.26L258.6 178.71L259.2 178.61L259.8 179.37L260.4 178.43L261 179.32L261.6 178.29L262.2 178.23L262.8 178.67L263.4 179.41L264 178.7L264.6 178.91L265.2 178.01L265.8 179.32L266.4 178.18L267 177.97L267.6 178.4L268.2 178.28L268.8 179.28L269.4 178.03L270 178.82L270.6 178.09L271.2 178.17L271.8 179.38L272.4 178.39L273 178.17L273.6 179.57L274.2 179.12L274.8 178.49L275.4 179.45L276 178.28L276.6 179.29L277.2 178.43L277.8 179.52L278.4 178.95L279 178.3L279.6 179.45L280.2 179.37L280.8 178.99L281.4 179.3L282 179.76L282.6 179.54L283.2 179.58L283.8 178.35L284.4 178.78L285 178.44L285.6 179.61L286.2 178.64L286.8 179.72L287.4 179.07L288 178.91L288.6 179.36L289.2 178.55L289.8 179.07L290.4 179.04L291 178.57L291.6 179.82L292.2 178.41L292.8 179L293.4 179.39L294 178.75L294.6 179.83L295.2 179.26L295.8 179.6L296.4 179.78L297 179.47L297.6 179.74L298.2 179.96L298.8 179.52L299.4 180.09L300 179.48L300.6 179.94L301.2 179.64L301.8 179.38L302.4 179.71L303 179.66L303.6 179.95L304.2 180.21L304.8 180.19L305.4 180.11L306 179.75L306.6 179.9L307.2 179.85L307.8 179.55L308.4 180.18L309 180.11L309.6 179.78L310.2 180.3L310.39 180.92Z" fill="#050505"/>
<path d="M277.7 132.2L277.55 142.2" stroke="#111" stroke-width="1.3" fill="none"/>
<path d="M277.7 137.5L313.14 137.87" stroke="#111" stroke-width="1.2" fill="none"/>
<text transform="translate(265.3 120.8) rotate(1)" font-size="8.2" fill="#0a0a0a" stroke="#0a0a0a" stroke-width="0.4" textLength="25.7" lengthAdjust="spacingAndGlyphs">MFI 62</text>
<text transform="translate(283.4 146.8) rotate(1)" font-size="9.8" fill="#0a0a0a" stroke="#0a0a0a" stroke-width="0.4" textLength="26.6" lengthAdjust="spacingAndGlyphs">12.9%</text>
</g>
<g>
<path d="M337.6 112.3L410.79 113.58" stroke="#6a6a6a" stroke-width="1" fill="none"/>
<path d="M410.79 113.58L409.59 182.17" stroke="#151515" stroke-width="1.3" fill="none"/>
<path d="M333.4 180.84L410.09 182.17" stroke="#0a0a0a" stroke-width="1.5" fill="none"/>
<path d="M337.6 111.9L336.4 183.39" stroke="#0a0a0a" stroke-width="1.5" fill="none"/>
<path d="M336.7 112.3L336.68 113.67" stroke="#111" stroke-width="1.3" stroke-dasharray="0.7 0.67" fill="none"/>
<path d="M335.48 113.67L339.06 114.58L335.44 115.49L339.03 116.4L335.41 117.31L339 118.21L335.38 119.12L338.97 120.03L335.35 120.94L338.93 121.85L335.32 122.76L338.9 123.66L335.29 124.57L338.87 125.48L335.25 126.39L338.84 127.3L335.22 128.21L338.81 129.11L335.19 130.02L338.77 130.93L335.16 131.84L338.74 132.75L335.13 133.66L338.71 134.56L335.1 135.47L338.68 136.38L335.06 137.29L338.65 138.2L335.03 139.11L338.62 140.01L335 140.92L338.58 141.83L334.97 142.74L338.55 143.65L334.94 144.56L338.52 145.46L334.91 146.37L338.49 147.28L334.87 148.19L338.46 149.1L334.84 150.01L338.43 150.91L334.81 151.82L338.39 152.73L334.78 153.64L338.36 154.55L334.75 155.46L338.33 156.36L334.72 157.27L338.3 158.18L334.68 159.09L338.27 160L334.65 160.91L338.24 161.81L334.62 162.72L338.2 163.63L334.59 164.54L338.17 165.45L334.56 166.36L338.14 167.26L334.52 168.17L338.11 169.08L334.49 169.99L338.08 170.9L334.46 171.81L338.05 172.71L334.43 173.62L338.01 174.53L334.4 175.44L337.98 176.35L334.37 177.26L337.95 178.16L334.33 179.07L337.92 179.98L334.3 180.89" stroke="#050505" stroke-width="0.85" fill="none" stroke-linejoin="miter"/>
<path d="M337.38 113.67L336.2 180.89" stroke="#0a0a0a" stroke-width="1.7" fill="none"/>
<path d="M333.2 180.89L336.4 180.89" stroke="#111" stroke-width="1"/>
<text transform="translate(330.2 180.89) rotate(-89)" text-anchor="middle" font-size="5.6" fill="#111" stroke="#111" stroke-width="0.35" textLength="2.9" lengthAdjust="spacingAndGlyphs">0</text>
<path d="M333.44 167.17L336.64 167.17" stroke="#111" stroke-width="1"/>
<text transform="translate(330.44 167.17) rotate(-89)" text-anchor="middle" font-size="5.6" fill="#111" stroke="#111" stroke-width="0.35" textLength="5.8" lengthAdjust="spacingAndGlyphs">10</text>
<path d="M333.68 153.45L336.88 153.45" stroke="#111" stroke-width="1"/>
<text transform="translate(330.68 153.45) rotate(-89)" text-anchor="middle" font-size="5.6" fill="#111" stroke="#111" stroke-width="0.35" textLength="5.8" lengthAdjust="spacingAndGlyphs">20</text>
<path d="M333.92 139.74L337.12 139.74" stroke="#111" stroke-width="1"/>
<text transform="translate(330.92 139.74) rotate(-89)" text-anchor="middle" font-size="5.6" fill="#111" stroke="#111" stroke-width="0.35" textLength="5.8" lengthAdjust="spacingAndGlyphs">30</text>
<path d="M334.16 126.02L337.36 126.02" stroke="#111" stroke-width="1"/>
<text transform="translate(331.16 126.02) rotate(-89)" text-anchor="middle" font-size="5.6" fill="#111" stroke="#111" stroke-width="0.35" textLength="5.8" lengthAdjust="spacingAndGlyphs">40</text>
<path d="M334.4 112.3L337.6 112.3" stroke="#111" stroke-width="1"/>
<text transform="translate(331.4 112.3) rotate(-89)" text-anchor="middle" font-size="5.6" fill="#111" stroke="#111" stroke-width="0.35" textLength="5.8" lengthAdjust="spacingAndGlyphs">50</text>
<path d="M336.4 180.89L336.35 183.89" stroke="#111" stroke-width="1"/>
<text x="332" y="191.69" font-size="7.3" fill="#000" stroke="#000" stroke-width="0.18" textLength="6.1" lengthAdjust="spacingAndGlyphs">10</text>
<text x="337.9" y="188.09" font-size="6.4" fill="#000" stroke="#000" stroke-width="0.25" textLength="3.2" lengthAdjust="spacingAndGlyphs">0</text>
<path d="M354.7 181.21L354.65 184.21" stroke="#111" stroke-width="1"/>
<text x="350.3" y="192.01" font-size="7.3" fill="#000" stroke="#000" stroke-width="0.18" textLength="6.1" lengthAdjust="spacingAndGlyphs">10</text>
<text x="356.2" y="188.41" font-size="6.4" fill="#000" stroke="#000" stroke-width="0.25" textLength="3.2" lengthAdjust="spacingAndGlyphs">1</text>
<path d="M373 181.53L372.95 184.53" stroke="#111" stroke-width="1"/>
<text x="368.6" y="192.33" font-size="7.3" fill="#000" stroke="#000" stroke-width="0.18" textLength="6.1" lengthAdjust="spacingAndGlyphs">10</text>
<text x="374.5" y="188.73" font-size="6.4" fill="#000" stroke="#000" stroke-width="0.25" textLength="3.2" lengthAdjust="spacingAndGlyphs">2</text>
<path d="M391.29 181.85L391.24 184.85" stroke="#111" stroke-width="1"/>
<text x="386.89" y="192.65" font-size="7.3" fill="#000" stroke="#000" stroke-width="0.18" textLength="6.1" lengthAdjust="spacingAndGlyphs">10</text>
<text x="392.79" y="189.05" font-size="6.4" fill="#000" stroke="#000" stroke-width="0.25" textLength="3.2" lengthAdjust="spacingAndGlyphs">3</text>
<path d="M409.59 182.17L409.54 185.17" stroke="#111" stroke-width="1"/>
<text x="405.19" y="192.97" font-size="7.3" fill="#000" stroke="#000" stroke-width="0.18" textLength="6.1" lengthAdjust="spacingAndGlyphs">10</text>
<text x="411.09" y="189.37" font-size="6.4" fill="#000" stroke="#000" stroke-width="0.25" textLength="3.2" lengthAdjust="spacingAndGlyphs">4</text>
<path d="M341.91 180.99v1.6M345.13 181.04v1.6M347.42 181.08v1.6M349.19 181.11v1.6M350.64 181.14v1.6M351.87 181.16v1.6M352.93 181.18v1.6M353.86 181.19v1.6M360.21 181.31v1.6M363.43 181.36v1.6M365.72 181.4v1.6M367.49 181.43v1.6M368.94 181.46v1.6M370.16 181.48v1.6M371.22 181.5v1.6M372.16 181.51v1.6M378.51 181.62v1.6M381.73 181.68v1.6M384.01 181.72v1.6M385.79 181.75v1.6M387.24 181.78v1.6M388.46 181.8v1.6M389.52 181.82v1.6M390.46 181.83v1.6M396.8 181.94v1.6M400.02 182v1.6M402.31 182.04v1.6M404.08 182.07v1.6M405.53 182.1v1.6M406.76 182.12v1.6M407.82 182.14v1.6M408.75 182.15v1.6" stroke="#222" stroke-width="0.5" fill="none"/>
<path d="M338.6 170.35L339.75 166.68L340.9 162.7L341.9 158.23L342.9 153.56L344 149.14L345.1 144.54L346.3 142.4L347.5 140.66L348.45 138.84L349.4 136.92L350.6 141.62L351.7 148.97L352.8 156.62L354 162.7" stroke="#111" stroke-width="1.25" stroke-dasharray="1.2 1.0" fill="none"/>
<path d="M338.6 181.53L338.6 179.75L339.24 179.83L339.88 179.56L340.53 178.97L341.17 178.64L341.81 178.19L342.45 178.71L343.09 178.44L343.73 178.04L344.38 178.19L345.02 177.79L345.66 178.16L346.3 177.76L346.95 176.84L347.6 177.18L348.25 175.85L348.9 176L349.55 175.48L350.2 174.91L350.97 173.18L351.73 172.44L352.5 170.06L353.27 169.12L354.03 168.02L354.8 165.61L355.55 162.57L356.3 159.92L356.97 159.31L357.63 158.96L358.3 158.64L359.4 151.84L360.17 152.22L360.93 152.45L361.7 152.4L362.45 154.48L363.2 155.51L364 153.94L364.8 151.66L365.4 152.68L366 152.67L366.6 152.46L367.8 157.07L368.43 157.75L369.07 158.5L369.7 159.37L370.9 165.71L371.7 168.59L372.5 172.02L373.1 174.01L373.7 175.48L374.3 177.18L375 177.61L375.7 177.69L376.4 178.58L377.1 179.03L377.71 179.57L378.32 179.43L378.93 179.29L379.54 179.86L380.15 180.36L380.76 179.69L381.37 180.57L381.98 179.77L382.59 180.19L383.2 180.31L383.9 180.74L384.6 180.84L385.3 180.5L386 179.91L386.67 180.67L387.33 180.21L388 180.26L388.67 181.15L389.33 180.99L390 181.21L390 182.42Z" fill="#050505" stroke="#050505" stroke-width="0.5" stroke-linejoin="round"/>
<path d="M336.9 181.5L336.9 179.83L337.5 179.34L338.1 180.17L338.7 179.59L339.3 179.82L339.9 179.58L340.5 180.26L341.1 179.81L341.7 180.07L342.3 180.5L342.9 180.66L343.5 180.02L344.1 180.9L344.7 179.58L345.3 180.81L345.9 181.01L346.5 180.9L347.1 179.59L347.7 180.53L348.3 180.87L348.9 181.06L349.5 181.05L350.1 180.02L350.7 180.12L351.3 180.03L351.9 179.98L352.5 181.07L353.1 180.24L353.7 180.61L354.3 179.89L354.9 179.9L355.5 179.8L356.1 181.13L356.7 179.86L357.3 179.79L357.9 179.75L358.5 181.1L359.1 180.96L359.7 181.12L360.3 181.25L360.9 179.96L361.5 180.03L362.1 180.32L362.7 180.03L363.3 180.35L363.9 180.91L364.5 181.22L365.1 181.23L365.7 180.19L366.3 181.08L366.9 180.91L367.5 180.75L368.1 181.41L368.7 181.04L369.3 181.01L369.9 180.33L370.5 180.9L371.1 180.98L371.7 179.96L372.3 180.71L372.9 180.16L373.5 180.55L374.1 181.5L374.7 180.9L375.3 180.87L375.9 180.34L376.5 181.03L377.1 180.47L377.7 180.75L378.3 181.27L378.9 180.25L379.5 181.5L380.1 180.34L380.7 181.39L381.3 181.67L381.9 181.36L382.5 180.47L383.1 180.14L383.7 181.71L384.3 180.94L384.9 180.95L385.5 180.47L386.1 181.46L386.7 180.98L387.3 181.22L387.9 180.46L388.5 181.38L389.1 180.3L389.7 181.37L390.3 181.49L390.9 180.72L391.5 181.45L392.1 181.77L392.7 181.36L393.3 181.82L393.9 181.26L394.5 181.35L395.1 181.28L395.7 181.42L396.3 181.65L396.9 181.62L397.5 181.64L398.1 181.25L398.7 181.91L399.3 181.28L399.9 181.98L400.5 181.84L401.1 181.81L401.7 181.31L402.3 181.64L402.9 181.75L403.5 181.35L404.1 181.88L404.7 181.71L405.3 181.67L405.9 181.5L406.5 181.51L407.1 181.61L407.59 182.73Z" fill="#050505"/>
<path d="M374.3 132.9L374.15 143.7" stroke="#111" stroke-width="1.3" fill="none"/>
<path d="M374.3 138.3L410.36 138.68" stroke="#111" stroke-width="1.2" fill="none"/>
<text transform="translate(361.2 122) rotate(1)" font-size="8.2" fill="#0a0a0a" stroke="#0a0a0a" stroke-width="0.4" textLength="25.1" lengthAdjust="spacingAndGlyphs">MFI 31</text>
<text transform="translate(380.9 148.8) rotate(1)" font-size="9.8" fill="#0a0a0a" stroke="#0a0a0a" stroke-width="0.4" textLength="20.8" lengthAdjust="spacingAndGlyphs">2.1%</text>
</g>
<text x="73" y="17.6" font-size="17" font-weight="700" fill="#0a0a0a" stroke="#0a0a0a" stroke-width="0.3">A</text>
<text transform="translate(168.7 9.6) rotate(1)" font-size="10.8" font-weight="700" fill="#0a0a0a" stroke="#0a0a0a" stroke-width="0.35" textLength="24" lengthAdjust="spacingAndGlyphs">IgG1</text>
<text transform="translate(254.5 11.4) rotate(1)" font-size="10.8" font-weight="700" fill="#0a0a0a" stroke="#0a0a0a" stroke-width="0.35" textLength="47.4" lengthAdjust="spacingAndGlyphs">anti-CD3</text>
<text transform="translate(350 11.9) rotate(1)" font-size="10.8" font-weight="700" fill="#0a0a0a" stroke="#0a0a0a" stroke-width="0.35" textLength="46.6" lengthAdjust="spacingAndGlyphs">IL-7+IFN-</text>
<text transform="translate(397.0 12.7) rotate(1)" font-family="'DejaVu Sans', 'Liberation Sans', sans-serif" font-size="10.5" fill="#0a0a0a" stroke="#0a0a0a" stroke-width="0.25" textLength="7.2" lengthAdjust="spacingAndGlyphs">γ</text>
<text x="65.8" y="59.3" font-size="10.8" font-weight="700" fill="#0a0a0a" stroke="#0a0a0a" stroke-width="0.35" textLength="43.7" lengthAdjust="spacingAndGlyphs">medium</text>
<text x="73.1" y="147.3" font-size="11.2" font-weight="700" fill="#0a0a0a" stroke="#0a0a0a" stroke-width="0.35" textLength="24.1" lengthAdjust="spacingAndGlyphs">CHX</text>
<text transform="translate(126.6 150.3) rotate(-89)" font-size="8.5" font-weight="700" fill="#0a0a0a" stroke="#0a0a0a" stroke-width="0.65" textLength="92" lengthAdjust="spacingAndGlyphs">relative cell number</text>
<path d="M130.4 156L131.8 45.5" stroke="#0a0a0a" stroke-width="1.1" fill="none"/>
<path d="M131.6 39.2L128.4 46.8L135.4 46.8Z" fill="#0a0a0a"/>
<path d="M211.4 192.9L326 194.7" stroke="#0a0a0a" stroke-width="1.5" fill="none"/>
<path d="M334.6 194.9L324.4 191.4L324.3 198.3Z" fill="#0a0a0a"/>
<text x="266.8" y="207" font-size="12.6" font-weight="700" fill="#0a0a0a" stroke="#0a0a0a" stroke-width="0.8" textLength="17.2" lengthAdjust="spacingAndGlyphs">Fas</text>
</g>
<defs><pattern id="st" width="4" height="4.5" patternUnits="userSpaceOnUse"><rect width="4" height="4.5" fill="#9c9c9c"/><rect y="1.5" width="4" height="0.8" fill="#ececec"/><rect y="3.8" width="4" height="0.65" fill="#c6c6c6"/></pattern></defs>
<path d="M50.25 426.5V424M45.3 424H55.2" stroke="#222" stroke-width="0.85" fill="none"/>
<rect x="40.8" y="426.5" width="18.8" height="14.8" fill="#fff" stroke="#303030" stroke-width="0.85"/>
<path d="M77.8 397.8V388.3M72.8 388.3H82.8" stroke="#222" stroke-width="0.85" fill="none"/>
<rect x="68.9" y="397.8" width="18.3" height="43.5" fill="url(#st)" stroke="#303030" stroke-width="0.85"/>
<path d="M131.8 428.9V423.2M127 423.2H136.6" stroke="#222" stroke-width="0.85" fill="none"/>
<rect x="122.5" y="428.9" width="19" height="12.4" fill="#fff" stroke="#303030" stroke-width="0.85"/>
<path d="M159.65 359.2V339.1M155 339.1H164.3" stroke="#222" stroke-width="0.85" fill="none"/>
<rect x="150.2" y="359.2" width="18.8" height="82.1" fill="url(#st)" stroke="#303030" stroke-width="0.85"/>
<rect x="31.9" y="296.6" width="146.4" height="144.7" fill="none" stroke="#505050" stroke-width="1.35"/>
<path d="M31.3 441.3H178.9" stroke="#262626" stroke-width="1.4"/>
<path d="M29.7 441.3H31.9" stroke="#505050" stroke-width="1.1"/>
<text x="29.6" y="444.9" text-anchor="end" font-size="10" font-weight="700" fill="#0a0a0a" stroke="#0a0a0a" stroke-width="0.4">0</text>
<path d="M29.7 405.12H31.9" stroke="#505050" stroke-width="1.1"/>
<text x="29.6" y="408.73" text-anchor="end" font-size="10" font-weight="700" fill="#0a0a0a" stroke="#0a0a0a" stroke-width="0.4">5</text>
<path d="M29.7 368.95H31.9" stroke="#505050" stroke-width="1.1"/>
<text x="29.6" y="372.55" text-anchor="end" font-size="10" font-weight="700" fill="#0a0a0a" stroke="#0a0a0a" stroke-width="0.4">10</text>
<path d="M29.7 332.78H31.9" stroke="#505050" stroke-width="1.1"/>
<text x="29.6" y="336.38" text-anchor="end" font-size="10" font-weight="700" fill="#0a0a0a" stroke="#0a0a0a" stroke-width="0.4">15</text>
<path d="M29.7 296.6H31.9" stroke="#505050" stroke-width="1.1"/>
<text x="29.6" y="300.2" text-anchor="end" font-size="10" font-weight="700" fill="#0a0a0a" stroke="#0a0a0a" stroke-width="0.4">20</text>
<text x="18.4" y="266.8" font-size="17" font-weight="700" fill="#0a0a0a" stroke="#0a0a0a" stroke-width="0.3">B</text>
<text x="50.8" y="280.3" font-size="12" font-weight="700" fill="#0a0a0a" stroke="#0a0a0a" stroke-width="0.35" textLength="109" lengthAdjust="spacingAndGlyphs">anti-CD3 activation</text>
<text x="44.2" y="451" font-size="8.7" font-weight="700" fill="#0a0a0a" stroke="#0a0a0a" stroke-width="0.35" textLength="38.5" lengthAdjust="spacingAndGlyphs">medium</text>
<text x="135.4" y="451.2" font-size="9.6" font-weight="700" fill="#0a0a0a" stroke="#0a0a0a" stroke-width="0.35" textLength="20.4" lengthAdjust="spacingAndGlyphs">CHX</text>
<text transform="translate(13.8 406) rotate(-90)" font-size="12" font-weight="700" fill="#0a0a0a" stroke="#0a0a0a" stroke-width="0.35" textLength="85" lengthAdjust="spacingAndGlyphs">% of Fas<tspan font-size="8.6" dy="-4.6">hi</tspan><tspan dy="4.6"> cells</tspan></text>
<rect x="184.9" y="361.9" width="10" height="8" fill="#fff" stroke="#333" stroke-width="1"/>
<rect x="184.9" y="375.4" width="10" height="8" fill="#b4b4b4" stroke="#333" stroke-width="1"/>
<text x="197.3" y="369.5" font-size="10" font-weight="700" fill="#0a0a0a" stroke="#0a0a0a" stroke-width="0.35" textLength="21.5" lengthAdjust="spacingAndGlyphs">IgG1</text>
<text x="197.3" y="383" font-size="10" font-weight="700" fill="#0a0a0a" stroke="#0a0a0a" stroke-width="0.35" textLength="41.1" lengthAdjust="spacingAndGlyphs">anti-CD3</text>
<path d="M315.95 427.4V424.7M311.2 424.7H320.7" stroke="#222" stroke-width="0.85" fill="none"/>
<rect x="306.4" y="427.4" width="18.7" height="14.5" fill="#fff" stroke="#303030" stroke-width="0.85"/>
<path d="M343.55 331.7V303.4M338.4 303.4H348.7" stroke="#222" stroke-width="0.85" fill="none"/>
<rect x="334.6" y="331.7" width="18.6" height="110.2" fill="url(#st)" stroke="#303030" stroke-width="0.85"/>
<path d="M397.75 434.7V432M392.8 432H402.7" stroke="#222" stroke-width="0.85" fill="none"/>
<rect x="388.2" y="434.7" width="19.1" height="7.2" fill="#fff" stroke="#303030" stroke-width="0.85"/>
<path d="M425.45 431.6V427M420.7 427H430.2" stroke="#222" stroke-width="0.85" fill="none"/>
<rect x="415.7" y="431.6" width="19.1" height="10.3" fill="url(#st)" stroke="#303030" stroke-width="0.85"/>
<rect x="298" y="296.6" width="145.7" height="145.3" fill="none" stroke="#505050" stroke-width="1.35"/>
<path d="M297.4 441.9H444.3" stroke="#262626" stroke-width="1.4"/>
<path d="M295.8 441.9H298" stroke="#505050" stroke-width="1.1"/>
<text x="295" y="445.5" text-anchor="end" font-size="10" font-weight="700" fill="#0a0a0a" stroke="#0a0a0a" stroke-width="0.4">0</text>
<path d="M295.8 405.57H298" stroke="#505050" stroke-width="1.1"/>
<text x="295" y="409.18" text-anchor="end" font-size="10" font-weight="700" fill="#0a0a0a" stroke="#0a0a0a" stroke-width="0.4">5</text>
<path d="M295.8 369.25H298" stroke="#505050" stroke-width="1.1"/>
<text x="295" y="372.85" text-anchor="end" font-size="10" font-weight="700" fill="#0a0a0a" stroke="#0a0a0a" stroke-width="0.4">10</text>
<path d="M295.8 332.93H298" stroke="#505050" stroke-width="1.1"/>
<text x="295" y="336.53" text-anchor="end" font-size="10" font-weight="700" fill="#0a0a0a" stroke="#0a0a0a" stroke-width="0.4">15</text>
<path d="M295.8 296.6H298" stroke="#505050" stroke-width="1.1"/>
<text x="295" y="300.2" text-anchor="end" font-size="10" font-weight="700" fill="#0a0a0a" stroke="#0a0a0a" stroke-width="0.4">20</text>
<text x="274" y="267" font-size="17" font-weight="700" fill="#0a0a0a" stroke="#0a0a0a" stroke-width="0.3">C</text>
<text x="312.1" y="279.2" font-size="12" font-weight="700" fill="#0a0a0a" stroke="#0a0a0a" stroke-width="0.35" textLength="48.9" lengthAdjust="spacingAndGlyphs">IL-7+IFN-</text>
<text x="361.0" y="279.2" font-family="'DejaVu Sans', 'Liberation Sans', sans-serif" font-size="12" fill="#0a0a0a" stroke="#0a0a0a" stroke-width="0.3" textLength="9.4" lengthAdjust="spacingAndGlyphs">γ</text>
<text x="375.6" y="279.2" font-size="12" font-weight="700" fill="#0a0a0a" stroke="#0a0a0a" stroke-width="0.35" textLength="56.3" lengthAdjust="spacingAndGlyphs">activation</text>
<text x="309.8" y="451.4" font-size="8.7" font-weight="700" fill="#0a0a0a" stroke="#0a0a0a" stroke-width="0.35" textLength="38.4" lengthAdjust="spacingAndGlyphs">medium</text>
<text x="401.3" y="451.3" font-size="9.6" font-weight="700" fill="#0a0a0a" stroke="#0a0a0a" stroke-width="0.35" textLength="20.4" lengthAdjust="spacingAndGlyphs">CHX</text>
<text transform="translate(279.9 407) rotate(-90)" font-size="12" font-weight="700" fill="#0a0a0a" stroke="#0a0a0a" stroke-width="0.35" textLength="85" lengthAdjust="spacingAndGlyphs">% of Fas<tspan font-size="8.6" dy="-4.6">hi</tspan><tspan dy="4.6"> cells</tspan></text>
<rect x="451" y="357.8" width="10" height="8" fill="#fff" stroke="#333" stroke-width="1"/>
<rect x="451" y="372.2" width="10" height="8.6" fill="url(#st)" stroke="#333" stroke-width="1"/>
<text x="463.4" y="365.3" font-size="10" font-weight="700" fill="#0a0a0a" stroke="#0a0a0a" stroke-width="0.35" textLength="39.6" lengthAdjust="spacingAndGlyphs">medium</text>
<text x="463.8" y="380" font-size="10" font-weight="700" fill="#0a0a0a" stroke="#0a0a0a" stroke-width="0.35" textLength="55" lengthAdjust="spacingAndGlyphs">IL-7 + IFN-<tspan font-weight="400" font-family="'Liberation Serif', serif" font-size="10.5">γ</tspan></text>
</svg>
</body></html>
